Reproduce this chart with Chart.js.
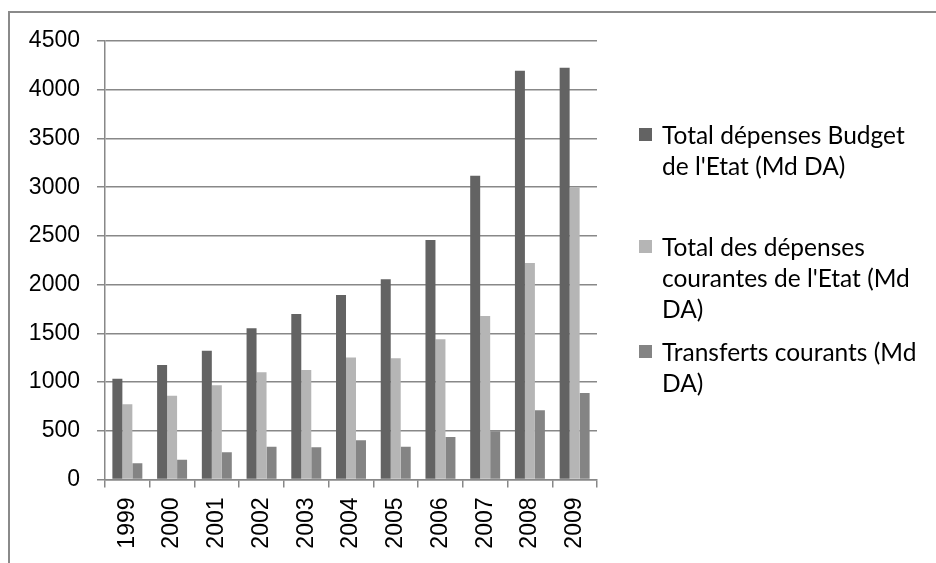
<!DOCTYPE html>
<html>
<head>
<meta charset="utf-8">
<script src="https://cdn.jsdelivr.net/npm/chart.js@4"></script>
<style>
  body { margin: 0; background: #fff; }
  #wrap { position: relative; width: 936px; height: 563px; overflow: hidden; }
  #frame { position: absolute; left: 8px; top: 11px; width: 1000px; height: 600px;
           border-left: 2px solid #8a8a8a; border-top: 2px solid #8a8a8a; }
  canvas { position: absolute; left: 0; top: 0; }
  .leg { position: absolute; left: 662px; width: 272px; font-family: Lato, sans-serif;
         font-size: 24.5px; line-height: 31px; color: #000; }
  .leg i { position: absolute; left: -23px; width: 13px; height: 13px; }
</style>
</head>
<body>
<div id="wrap">
  <div id="frame"></div>
  <canvas id="chart" width="936" height="563"></canvas>
  <div id="legend"></div>
</div>
<script>
const years = ['1999', '2000', '2001', '2002', '2003', '2004', '2005', '2006', '2007', '2008', '2009'];

const totalBudget = [1035, 1175, 1322, 1552, 1699, 1894, 2055, 2459, 3116, 4194, 4225];
const depensesCourantes = [772, 860, 967, 1100, 1124, 1251, 1244, 1439, 1679, 2223, 3000];
const transferts = [166, 203, 279, 337, 330, 402, 337, 436, 495, 710, 888];

const seriesNames = [
  ['Total dépenses Budget', "de l'Etat (Md DA)"],
  ['Total des dépenses', "courantes de l'Etat (Md", 'DA)'],
  ['Transferts courants (Md', 'DA)']
];
const seriesColors = ['#636363', '#b5b5b5', '#848484'];
const legendTops = [119, 231, 336];

const gridColor = '#888888';

const ctx = document.getElementById('chart').getContext('2d');
const chart = new Chart(ctx, {
  type: 'bar',
  data: {
    labels: years,
    datasets: [totalBudget, depensesCourantes, transferts].map((d, i) => ({
      label: seriesNames[i].join(' '),
      data: d,
      backgroundColor: seriesColors[i],
      borderWidth: 0,
      categoryPercentage: 0.67,
      barPercentage: 1
    }))
  },
  options: {
    responsive: false,
    animation: false,
    layout: { padding: { top: 41, right: 339, left: 0, bottom: 0 } },
    plugins: { legend: { display: false }, tooltip: { enabled: false } },
    scales: {
      x: {
        grid: { drawOnChartArea: false, drawTicks: true, tickLength: 8, color: gridColor, lineWidth: 1.5, offset: true },
        border: { color: gridColor, width: 1.5 },
        ticks: { color: '#000', font: { family: 'Liberation Sans', size: 23 }, minRotation: 90, maxRotation: 90, padding: 10 },
        afterFit: s => { s.height = 83.5; }
      },
      y: {
        min: 0,
        max: 4500,
        ticks: { stepSize: 500, color: '#000', font: { family: 'Liberation Sans', size: 23 }, padding: 17,
                 callback: v => String(v) },
        grid: { color: gridColor, lineWidth: 1.5, tickLength: 8 },
        border: { color: gridColor, width: 1.5 },
        afterFit: s => { s.width = 105; }
      }
    }
  }
});

// legend with wrapped lines
const legend = document.getElementById('legend');
seriesNames.forEach((lines, i) => {
  const div = document.createElement('div');
  div.className = 'leg';
  div.style.top = legendTops[i] + 'px';
  div.innerHTML = '<i style="background:' + seriesColors[i] + ';top:9px"></i>' + lines.join('<br>');
  legend.appendChild(div);
});
</script>
</body>
</html>
